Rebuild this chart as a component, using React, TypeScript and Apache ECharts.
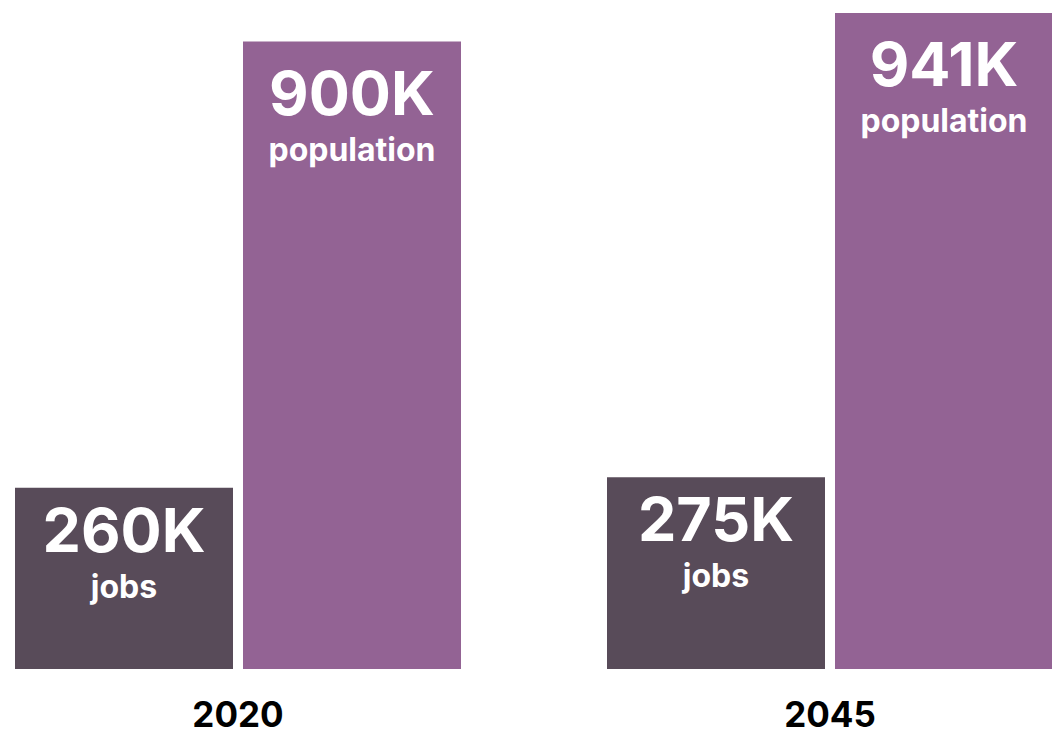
import React, { useEffect, useRef } from "react";
import * as echarts from "echarts";

const years = ["2020", "2045"];
const jobs = [260, 275];
const population = [900, 941];
const seriesNames = ["jobs", "population"];
const colors = ["#584b59", "#936394"];

const FONT = "Inter, 'Liberation Sans', Arial, sans-serif";

export default function App() {
  const ref = useRef<HTMLDivElement>(null);
  useEffect(() => {
    if (!ref.current) return;
    const chart = echarts.init(ref.current, null, { renderer: "svg" });
    const makeLabel = (name: string, distance: number) => ({
      show: true,
      position: "insideTop",
      distance,
      formatter: (p: any) => `{v|${p.value}K}\n{n|${name}}`,
      rich: {
        v: {
          fontFamily: FONT,
          fontSize: 61,
          fontWeight: "bold",
          color: "#ffffff",
          lineHeight: 66,
          align: "center",
        },
        n: {
          fontFamily: FONT,
          fontSize: 32,
          fontWeight: "bold",
          color: "#ffffff",
          lineHeight: 47,
          align: "center",
        },
      },
    });
    chart.setOption({
      animation: false,
      grid: { left: 0, right: 0, top: 13, bottom: 66, containLabel: false },
      xAxis: {
        type: "category",
        data: years,
        axisLine: { show: false },
        axisTick: { show: false },
        axisLabel: {
          margin: 27,
          fontFamily: FONT,
          fontSize: 35,
          fontWeight: "bold",
          color: "#000000",
        },
      },
      yAxis: {
        type: "value",
        min: 0,
        max: 941,
        show: false,
        splitLine: { show: false },
      },
      series: [
        {
          name: seriesNames[0],
          type: "bar",
          data: jobs,
          barWidth: 218,
          barGap: "4.587%",
          itemStyle: { color: colors[0] },
          label: makeLabel(seriesNames[0], 9),
        },
        {
          name: seriesNames[1],
          type: "bar",
          data: population,
          barWidth: 218,
          barGap: "4.587%",
          itemStyle: { color: colors[1] },
          label: makeLabel(seriesNames[1], 18),
        },
      ],
    });
    return () => chart.dispose();
  }, []);
  return (
    <div
      style={{
        position: "absolute",
        left: 0,
        top: 0,
        width: 1052,
        height: 735,
        overflow: "hidden",
      }}
    >
      <div
        ref={ref}
        style={{ position: "absolute", left: -58, top: 0, width: 1184, height: 735 }}
      />
    </div>
  );
}
